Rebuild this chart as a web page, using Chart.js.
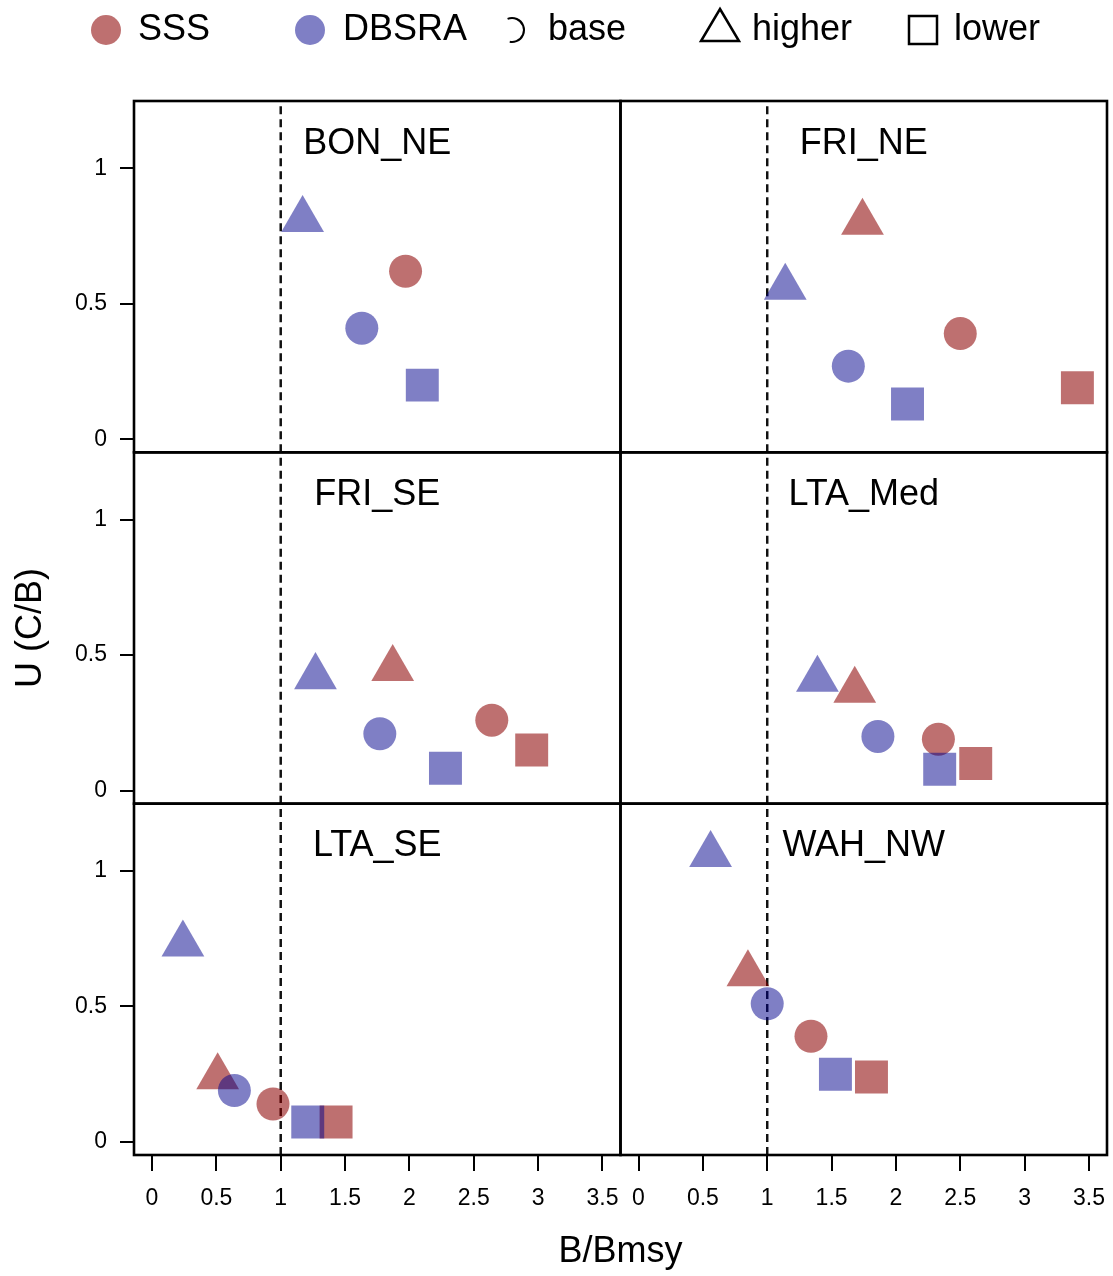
<!DOCTYPE html>
<html>
<head>
<meta charset="utf-8">
<title>U (C/B) vs B/Bmsy</title>
<script src="https://cdn.jsdelivr.net/npm/chart.js@4.4.1/dist/chart.umd.min.js"></script>
<style>
  html, body { margin: 0; padding: 0; background: #fff; }
  #wrap { width: 1113px; height: 1276px; position: relative; }
</style>
</head>
<body>
<div id="wrap"><canvas id="chart"></canvas></div>
<script>
// panels in reading order, two per row
const panels = ['BON_NE', 'FRI_NE', 'FRI_SE', 'LTA_Med', 'LTA_SE', 'WAH_NW'];
const scenarios = ['base', 'higher', 'lower'];

// values per panel, scenario order base / higher / lower (null = not plotted)
const sssB = [[1.97, null, null], [2.50, 1.74, 3.41], [2.64, 1.87, 2.95], [2.33, 1.68, 2.62], [0.94, 0.51, 1.43], [1.34, 0.85, 1.81]];
const sssU = [[0.62, null, null], [0.39, 0.80, 0.19], [0.26, 0.45, 0.15], [0.19, 0.37, 0.10], [0.14, 0.24, 0.074], [0.39, 0.62, 0.24]];
const dbB  = [[1.63, 1.17, 2.10], [1.63, 1.14, 2.09], [1.77, 1.27, 2.28], [1.86, 1.39, 2.34], [0.64, 0.24, 1.21], [1.00, 0.56, 1.53]];
const dbU  = [[0.41, 0.81, 0.20], [0.27, 0.56, 0.13], [0.21, 0.42, 0.083], [0.20, 0.41, 0.079], [0.19, 0.73, 0.074], [0.51, 1.06, 0.25]];

const xTicks = [0, 0.5, 1, 1.5, 2, 2.5, 3, 3.5];
const yTicks = [0, 0.5, 1];
const xLim = [0, 3.5];
const yLim = [0, 1.2];
const refLine = 1;            // B = Bmsy
const labelAt = [1.75, 1.09]; // where the panel name sits

// R style 4% axis padding
const pad = (l) => [l[0] - 0.04 * (l[1] - l[0]), l[1] + 0.04 * (l[1] - l[0])];
const xRange = pad(xLim), yRange = pad(yLim);

const FONT = '"Liberation Sans", Arial, Helvetica, sans-serif';
const colors = { SSS: 'rgba(139,0,0,0.56)', DBSRA: 'rgba(0,0,139,0.5)' };
const shapes = { base: 'circle', higher: 'triangle', lower: 'rect' };
const radius = { base: 16.5, higher: 24.7, lower: 23.3 };

const datasets = [];
panels.forEach((name, i) => {
  const xID = 'x' + (i % 2), yID = 'y' + Math.floor(i / 2);
  [['DBSRA', dbB, dbU, 0], ['SSS', sssB, sssU, 1]].forEach(([m, bx, uy, ord]) => {
    const pts = [];
    scenarios.forEach((s, k) => {
      if (bx[i][k] !== null) pts.push({ x: bx[i][k], y: uy[i][k], s: s });
    });
    datasets.push({
      label: m + ' ' + name,
      data: pts,
      xAxisID: xID, yAxisID: yID,
      order: ord,
      backgroundColor: colors[m],
      borderWidth: 0,
      pointBorderWidth: 0,
      pointStyle: c => shapes[c.raw.s],
      pointRadius: c => radius[c.raw.s]
    });
  });
  // dashed reference line
  datasets.push({
    label: 'Bmsy ' + name,
    data: [{ x: refLine, y: yRange[0] }, { x: refLine, y: yRange[1] }],
    xAxisID: xID, yAxisID: yID,
    order: 2,
    showLine: true,
    borderColor: '#111',
    borderWidth: 2.5,
    borderDash: [8, 5],
    pointRadius: 0
  });
});

const tickGrid = { drawOnChartArea: false, drawTicks: true, tickLength: 14, color: '#000', lineWidth: 2 };

function yAxis(w) {
  return {
    type: 'linear', position: 'left', stack: 'rows', weight: w,
    min: yRange[0], max: yRange[1],
    afterBuildTicks: s => { s.ticks = yTicks.map(v => ({ value: v })); },
    afterFit: s => { s.width = 134; s.paddingTop = 0; s.paddingBottom = 0; },
    grid: tickGrid,
    border: { display: false },
    ticks: { color: '#000', font: { size: 23, family: FONT }, padding: 13, autoSkip: false, callback: v => String(v) }
  };
}
function xAxis(w) {
  return {
    type: 'linear', position: 'bottom', stack: 'cols', weight: w,
    min: xRange[0], max: xRange[1],
    afterBuildTicks: s => { s.ticks = xTicks.map(v => ({ value: v })); },
    afterFit: s => { s.height = 121; s.paddingLeft = 0; s.paddingRight = 0; },
    grid: Object.assign({}, tickGrid, { tickLength: 16 }),
    border: { display: false },
    ticks: { color: '#000', font: { size: 23, family: FONT }, padding: 14, autoSkip: false, maxRotation: 0, minRotation: 0, callback: v => String(v) }
  };
}

// frames, panel names, legend and axis titles
const decor = {
  id: 'decor',
  afterDatasetsDraw(chart) {
    const ctx = chart.ctx;
    ctx.save();
    ctx.strokeStyle = '#000';
    ctx.fillStyle = '#000';
    ctx.lineWidth = 2.6;
    ctx.setLineDash([]);
    panels.forEach((name, i) => {
      const xs = chart.scales['x' + (i % 2)], ys = chart.scales['y' + Math.floor(i / 2)];
      ctx.strokeRect(xs.left, ys.top, xs.right - xs.left, ys.bottom - ys.top);
      ctx.font = '36px ' + FONT;
      ctx.textAlign = 'center';
      ctx.textBaseline = 'middle';
      ctx.fillText(name, xs.getPixelForValue(labelAt[0]), ys.getPixelForValue(labelAt[1]));
    });

    // axis titles
    const a = chart.chartArea;
    ctx.font = '36px ' + FONT;
    ctx.textAlign = 'center';
    ctx.textBaseline = 'middle';
    ctx.fillText('B/Bmsy', (a.left + a.right) / 2, 1252);
    ctx.save();
    ctx.translate(31, (a.top + a.bottom) / 2);
    ctx.rotate(-Math.PI / 2);
    ctx.fillText('U (C/B)', 0, 0);
    ctx.restore();

    // legend row
    const ly = 30;
    ctx.textAlign = 'left';
    ctx.font = '36px ' + FONT;
    ctx.fillStyle = colors.SSS;
    ctx.beginPath(); ctx.arc(106, ly, 15, 0, Math.PI * 2); ctx.fill();
    ctx.fillStyle = colors.DBSRA;
    ctx.beginPath(); ctx.arc(310, ly, 15, 0, Math.PI * 2); ctx.fill();
    ctx.strokeStyle = '#000';
    ctx.lineWidth = 2;
    ctx.beginPath(); ctx.arc(512, ly, 12, -Math.PI * 0.62, Math.PI * 0.56); ctx.stroke();
    ctx.lineWidth = 2.5;
    ctx.beginPath();
    ctx.moveTo(720, ly - 21); ctx.lineTo(739, ly + 11); ctx.lineTo(701, ly + 11); ctx.closePath();
    ctx.stroke();
    ctx.strokeRect(909, ly - 14, 28, 28);
    ctx.fillStyle = '#000';
    ctx.fillText('SSS', 138, ly);
    ctx.fillText('DBSRA', 343, ly);
    ctx.fillText('base', 548, ly);
    ctx.fillText('higher', 752, ly);
    ctx.fillText('lower', 954, ly);
    ctx.restore();
  }
};

new Chart(document.getElementById('chart'), {
  type: 'scatter',
  data: { datasets: datasets },
  options: {
    responsive: true,
    maintainAspectRatio: false,
    animation: false,
    events: [],
    layout: { autoPadding: false, padding: { top: 101, right: 6, left: 0, bottom: 0 } },
    plugins: { legend: { display: false }, tooltip: { enabled: false } },
    scales: {
      y0: yAxis(3), y1: yAxis(2), y2: yAxis(1),
      x0: xAxis(1), x1: xAxis(2)
    }
  },
  plugins: [decor]
});
</script>
</body>
</html>
